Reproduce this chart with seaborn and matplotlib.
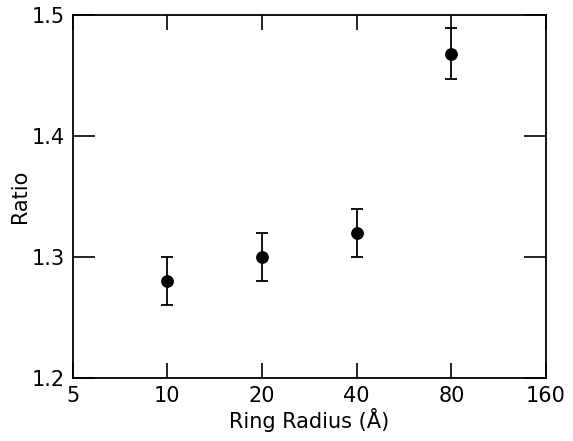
import matplotlib
matplotlib.use("Agg")
import matplotlib.pyplot as plt
import seaborn as sns
import pandas as pd
from matplotlib.ticker import FixedLocator, FixedFormatter, NullLocator

radius = [10, 20, 40, 80]
ratio = [1.28, 1.30, 1.32, 1.468]
err = [0.02, 0.02, 0.02, 0.021]
xticks = [5, 10, 20, 40, 80, 160]
yticks = [1.2, 1.3, 1.4, 1.5]

sns.set_theme(style="ticks")
plt.rcParams['font.family'] = ['DejaVu Sans']

df = pd.DataFrame({"radius": radius, "ratio": ratio, "err": err})

fig = plt.figure(figsize=(5.73, 4.41), dpi=100)
ax = fig.add_axes([0.127, 0.143, 0.826, 0.823])
ax.set_xscale("log", base=2)
ax.errorbar(df["radius"], df["ratio"], yerr=df["err"], fmt="none",
            ecolor="black", elinewidth=1.3, capsize=4, capthick=1.3, zorder=2)
sns.scatterplot(data=df, x="radius", y="ratio", ax=ax, color="black",
                s=85, edgecolor="black", linewidth=0, zorder=3, legend=False)
ax.set_xlim(5, 160)
ax.set_ylim(1.2, 1.5)
ax.xaxis.set_major_locator(FixedLocator(xticks))
ax.xaxis.set_major_formatter(FixedFormatter([str(t) for t in xticks]))
ax.xaxis.set_minor_locator(NullLocator())
ax.yaxis.set_major_locator(FixedLocator(yticks))
ax.yaxis.set_major_formatter(FixedFormatter([f"{t:.1f}" for t in yticks]))
ax.tick_params(direction="in", width=1.2, top=True, right=True,
               labelsize=15, colors="black", labelcolor="black")
ax.tick_params(axis="x", length=11, pad=6)
ax.tick_params(axis="y", length=16, pad=6)
for s in ax.spines.values():
    s.set_linewidth(1.3)
    s.set_color("black")
ax.set_xlabel("Ring Radius (Å)", fontsize=15, labelpad=1, color="black")
ax.set_ylabel("Ratio", fontsize=15, labelpad=1, color="black")
fig.savefig("out.png", dpi=100, facecolor="white")
